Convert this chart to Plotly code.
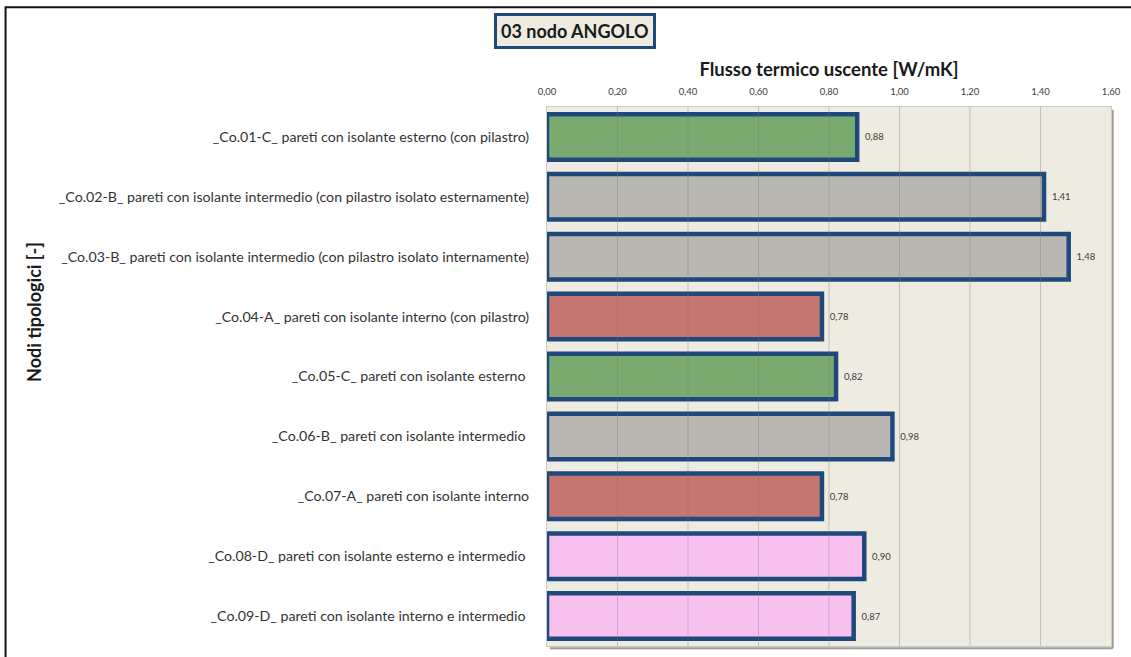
import plotly.graph_objects as go

categories = [
    "_Co.01-C_ pareti con isolante esterno (con pilastro)",
    "_Co.02-B_ pareti con isolante intermedio (con pilastro isolato esternamente)",
    "_Co.03-B_ pareti con isolante intermedio (con pilastro isolato internamente)",
    "_Co.04-A_ pareti con isolante interno (con pilastro)",
    "_Co.05-C_ pareti con isolante esterno ",
    "_Co.06-B_ pareti con isolante intermedio ",
    "_Co.07-A_ pareti con isolante interno",
    "_Co.08-D_ pareti con isolante esterno e intermedio ",
    "_Co.09-D_ pareti con isolante interno e intermedio ",
]
values = [0.88, 1.41, 1.48, 0.78, 0.82, 0.98, 0.78, 0.90, 0.87]
bar_colors = ["#79AB71", "#B9B7B2", "#B9B7B2", "#C57670", "#79AB71",
              "#B9B7B2", "#C57670", "#F6C1EF", "#F6C1EF"]
tick_vals = [0.0, 0.2, 0.4, 0.6, 0.8, 1.0, 1.2, 1.4, 1.6]
tick_text = ["0,00", "0,20", "0,40", "0,60", "0,80", "1,00", "1,20", "1,40", "1,60"]

FONT = "Lato"

fig = go.Figure()
fig.add_trace(go.Bar(
    y=categories, x=values, orientation="h",
    marker=dict(color=bar_colors, line=dict(color="#1F497D", width=4.5)),
    width=0.76,
    text=["  " + f"{v:.2f}".replace(".", ",") for v in values],
    textposition="outside",
    textfont=dict(size=9.5, color="#404040", family=FONT),
    cliponaxis=False,
    hoverinfo="skip",
))

shapes = []
# gridlines drawn over bars
for tv in tick_vals[1:-1]:
    shapes.append(dict(type="line", xref="x", yref="paper", x0=tv, x1=tv, y0=0, y1=1,
                       line=dict(color="rgba(120,115,105,0.35)", width=1), layer="above"))
# plot area shadow
shapes.append(dict(type="line", xref="paper", yref="paper", x0=1.003, x1=1.003, y0=-0.004, y1=0.995,
                   line=dict(color="#9A9A9A", width=2), layer="below"))
shapes.append(dict(type="line", xref="paper", yref="paper", x0=0.005, x1=1.003, y0=-0.004, y1=-0.004,
                   line=dict(color="#9A9A9A", width=2), layer="below"))
# outer frame
shapes.append(dict(type="rect", xref="paper", yref="paper", x0=-0.96, x1=1.2, y0=-0.3, y1=1.185,
                   line=dict(color="#111111", width=2), fillcolor="rgba(0,0,0,0)", layer="above"))

fig.update_layout(
    width=1131, height=657,
    margin=dict(l=547, r=12, t=107, b=10),
    paper_bgcolor="white",
    plot_bgcolor="#EEEBE1",
    showlegend=False,
    bargap=0.24,
    shapes=shapes,
    font=dict(family=FONT, color="#262626"),
    xaxis=dict(
        side="top", range=[0, 1.6], tickvals=tick_vals, ticktext=tick_text,
        tickfont=dict(size=9.5, color="#404040", family=FONT),
        showgrid=False, zeroline=False, showline=True, linecolor="#D0CCC2", mirror=True,
        ticks="", ticklabelstandoff=7,
        title=dict(text="<b>Flusso termico uscente [W/mK]</b>",
                   font=dict(size=18.5, color="#1A1A1A", family=FONT), standoff=4),
    ),
    yaxis=dict(
        autorange="reversed", showgrid=False, zeroline=False, showline=True, linecolor="#D0CCC2",
        mirror=True, ticks="", ticklabelstandoff=14,
        tickfont=dict(size=14.2, color="#333333", family=FONT),
    ),
    annotations=[
        dict(text="<b>03 nodo ANGOLO</b>", xref="paper", yref="paper",
             x=(575 - 547) / 572, y=(647 - 31) / 540, xanchor="center", yanchor="middle",
             showarrow=False, font=dict(size=18, color="#1A1A1A", family=FONT),
             bgcolor="#EEEBE1", bordercolor="#1F497D", borderwidth=3, borderpad=4),
        dict(text="<b>Nodi tipologici [-]</b>", xref="paper", yref="paper",
             x=(26 - 547) / 572, y=(647 - 312) / 540, xanchor="center", yanchor="middle",
             textangle=-90, showarrow=False,
             font=dict(size=18, color="#1A1A1A", family=FONT)),
    ],
)

fig.write_html("out.html")
